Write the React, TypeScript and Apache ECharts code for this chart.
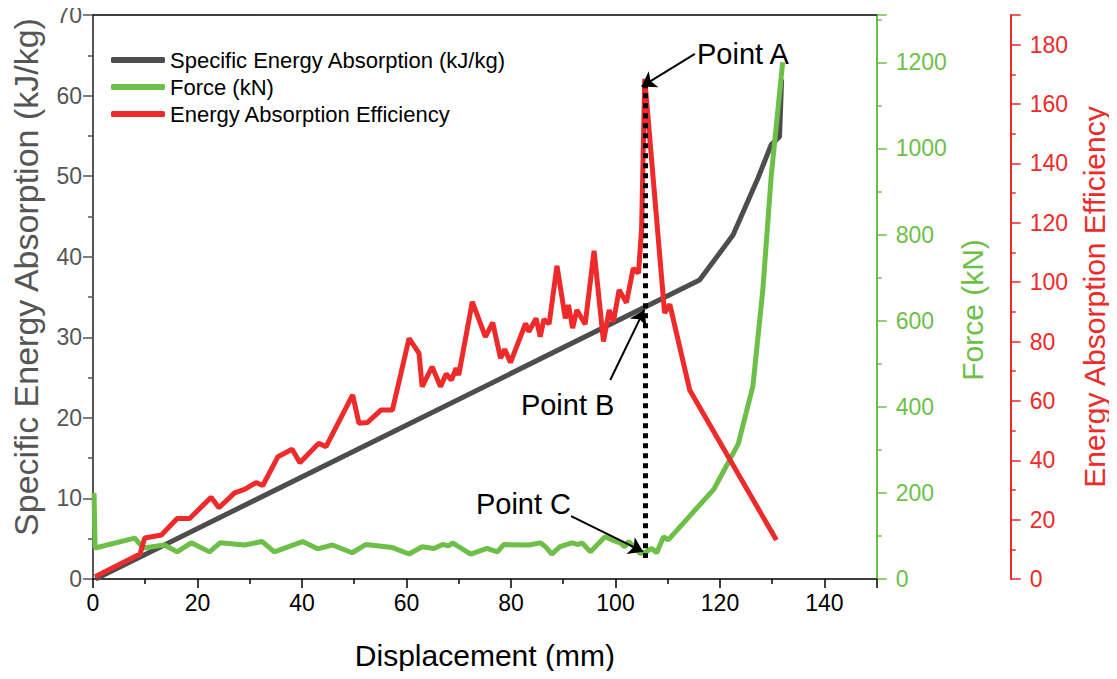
import React, { useEffect, useRef } from "react";
import * as echarts from "echarts";

// Displacement (mm) vs Specific Energy Absorption (kJ/kg)
const seaData: [number, number][] = [
  [0.5, 0], [116.1, 37.1], [122.5, 42.7], [127.3, 49.8], [129.8, 53.9], [131.4, 54.9], [131.8, 62],
];

// Displacement (mm) vs Force (kN)
const forceData: [number, number][] = [
  [0.2, 200], [0.4, 72], [8, 95], [9.6, 72], [13.7, 79], [16.1, 63], [18.8, 84], [22.3, 63],
  [24.3, 84], [29, 79], [32.4, 87], [34.7, 63], [40.1, 87], [43, 70], [45.8, 79], [49.6, 61],
  [52.2, 80], [57.3, 73], [60.5, 58], [63, 75], [65.3, 71], [66.9, 80], [68.1, 77], [68.8, 84],
  [72.3, 58], [75.4, 71], [77.4, 63], [78.6, 80], [83.4, 79], [85.6, 84], [86.6, 75], [87.8, 58],
  [89.4, 75], [91.7, 84], [92.9, 80], [93.6, 84], [95.2, 63], [98, 98], [99.3, 91], [100.9, 84],
  [101.8, 75], [102.5, 87], [104.7, 60], [105.6, 61], [106.9, 71], [107.9, 61], [109.2, 98],
  [110.1, 91], [118.8, 208], [123.5, 314], [126.3, 448], [128.2, 671], [129.8, 935], [132, 1200],
];

// Displacement (mm) vs Energy Absorption Efficiency
const eaeData: [number, number][] = [
  [0.4, 0.8], [9.0, 8.4], [9.9, 13.8], [13.1, 14.8], [16.1, 20.4], [18.5, 20.4], [22.6, 27.5],
  [24.1, 24.0], [27.1, 29.0], [29.0, 30.2], [31.2, 32.5], [32.5, 31.5], [35.4, 41.2], [38.1, 43.7],
  [39.6, 39.2], [43.2, 45.7], [44.6, 44.6], [49.7, 62], [50.9, 52.5], [52.5, 52.7], [55.1, 56.9],
  [57.3, 56.9], [60.5, 81.1], [62.4, 76.0], [63.0, 64.8], [64.9, 71.5], [65.7, 68.2], [66.5, 64.8],
  [67.6, 69.1], [68.6, 67.0], [69.5, 71.0], [70.0, 68.7], [72.6, 93.4], [75.1, 81.6], [76.5, 86.4],
  [78.0, 74.4], [78.8, 77.4], [79.9, 72.9], [82.8, 86.1], [83.4, 83.3], [84.8, 87.8], [85.6, 81.6],
  [86.3, 87.5], [87.3, 85.9], [88.8, 105.5], [90.4, 87.8], [91.0, 92.3], [91.8, 84.5], [92.6, 90.6],
  [94.2, 85.8], [95.9, 110.6], [97.7, 80.0], [98.8, 90.6], [99.6, 86.7], [100.7, 97.4], [102.1, 93.1],
  [103.4, 104.7], [104.4, 103.0], [105.0, 118], [105.6, 168.5], [109.4, 89.6], [110.4, 92.5],
  [114.2, 63.7], [130.8, 13.1],
];

// Annotations: [x, y] in the axis of each series
const pointALabel: [number, number] = [115.5, 176.7]; // EAE axis
const pointAArrow: [number, number][] = [[115.2, 176.9], [105.0, 165.9]];
const pointBLabel: [number, number] = [81.8, 21.6]; // SEA axis
const pointBArrow: [number, number][] = [[99.0, 24.7], [105.5, 33.4]];
const pointCLabel: [number, number] = [73.2, 174]; // Force axis
const pointCArrow: [number, number][] = [[91.5, 146], [105.3, 63.4]];
const dottedLine: [number, number][] = [[105.7, 167], [105.7, 7.1]]; // EAE axis

const seriesNames = ["Specific Energy Absorption (kJ/kg)", "Force (kN)", "Energy Absorption Efficiency"];

const FONT = "Liberation Sans, Arial, sans-serif";
const GRAY = "#555555";
const GREEN = "#6dbf48";
const RED = "#ee2a2a";

export default function App() {
  const ref = useRef<HTMLDivElement>(null);
  useEffect(() => {
    if (!ref.current) return;
    const chart = echarts.init(ref.current, undefined, { renderer: "svg" });
    const arrowLine = (pts: [number, number][]) => ({
      symbol: ["none", "arrow"],
      symbolSize: 14,
      silent: true,
      label: { show: false },
      lineStyle: { color: "#000", width: 2, type: "solid" },
      data: [[{ coord: pts[0] }, { coord: pts[1] }]],
    });
    const labelPoint = (pos: [number, number], text: string) => ({
      silent: true,
      data: [
        {
          coord: pos,
          symbol: "circle",
          symbolSize: 1,
          itemStyle: { color: "rgba(0,0,0,0)" },
          label: {
            show: true,
            position: "right",
            distance: 0,
            formatter: text,
            fontSize: 29,
            color: "#000",
            fontFamily: FONT,
          },
        },
      ],
    });
    const plain = (v: number) => String(v);
    chart.setOption({
      animation: false,
      backgroundColor: "#fff",
      textStyle: { fontFamily: FONT },
      grid: { left: 93, right: 237, top: 15, bottom: 100, containLabel: false },
      legend: {
        data: seriesNames,
        orient: "vertical",
        left: 106,
        top: 44,
        itemWidth: 54,
        itemHeight: 6,
        itemGap: 5,
        icon: "roundRect",
        textStyle: { fontSize: 22, color: "#000", fontFamily: FONT },
      },
      xAxis: [
        {
          type: "value",
          min: 0,
          max: 150,
          interval: 20,
          name: "Displacement (mm)",
          nameLocation: "middle",
          nameGap: 61,
          nameTextStyle: { fontSize: 30, color: "#000", fontFamily: FONT },
          axisLine: { show: true, onZero: false, lineStyle: { color: "#000", width: 1.5 } },
          axisTick: { show: true, length: 9, lineStyle: { color: "#000", width: 1.5 } },
          minorTick: { show: true, splitNumber: 2, length: 5, lineStyle: { color: "#000", width: 1.5 } },
          axisLabel: { fontSize: 23, color: "#000", margin: 12, fontFamily: FONT, showMaxLabel: false, formatter: plain },
          splitLine: { show: false },
        },
        {
          type: "value",
          position: "top",
          min: 0,
          max: 150,
          axisLine: { show: true, onZero: false, lineStyle: { color: "#000", width: 1.5 } },
          axisTick: { show: false },
          axisLabel: { show: false },
          splitLine: { show: false },
        },
      ],
      yAxis: [
        {
          type: "value",
          position: "left",
          min: 0,
          max: 70,
          interval: 10,
          name: "Specific Energy Absorption (kJ/kg)",
          nameLocation: "middle",
          nameRotate: 90,
          nameGap: 50,
          nameTextStyle: { fontSize: 34, color: GRAY, fontFamily: FONT, padding: [0, 0, 0, 40] },
          axisLine: { show: true, onZero: false, lineStyle: { color: GRAY, width: 2 } },
          axisTick: { show: true, length: 10, lineStyle: { color: GRAY, width: 1.5 } },
          minorTick: { show: true, splitNumber: 2, length: 5, lineStyle: { color: GRAY, width: 1.5 } },
          axisLabel: { fontSize: 23, color: GRAY, margin: 11, fontFamily: FONT, formatter: plain },
          splitLine: { show: false },
        },
        {
          type: "value",
          position: "right",
          offset: 0,
          min: 0,
          max: 1310,
          interval: 200,
          name: "Force (kN)",
          nameLocation: "middle",
          nameRotate: 90,
          nameGap: 80,
          nameTextStyle: { fontSize: 30, color: GREEN, fontFamily: FONT, padding: [0, 26, 0, 0] },
          axisLine: { show: true, onZero: false, lineStyle: { color: GREEN, width: 2 } },
          axisTick: { show: true, length: 10, lineStyle: { color: GREEN, width: 1.5 } },
          minorTick: { show: true, splitNumber: 2, length: 5, lineStyle: { color: GREEN, width: 1.5 } },
          axisLabel: { fontSize: 23, color: GREEN, margin: 19, fontFamily: FONT, showMaxLabel: false, formatter: plain },
          splitLine: { show: false },
        },
        {
          type: "value",
          position: "right",
          offset: 134,
          min: 0,
          max: 190,
          interval: 20,
          name: "Energy Absorption Efficiency",
          nameLocation: "middle",
          nameRotate: 90,
          nameGap: 68,
          nameTextStyle: { fontSize: 30, color: RED, fontFamily: FONT },
          axisLine: { show: true, onZero: false, lineStyle: { color: RED, width: 2 } },
          axisTick: { show: true, length: 10, lineStyle: { color: RED, width: 1.5 } },
          minorTick: { show: true, splitNumber: 2, length: 5, lineStyle: { color: RED, width: 1.5 } },
          axisLabel: { fontSize: 23, color: RED, margin: 19, fontFamily: FONT, showMaxLabel: false, formatter: plain },
          splitLine: { show: false },
        },
      ],
      series: [
        {
          name: seriesNames[0],
          type: "line",
          xAxisIndex: 0,
          yAxisIndex: 0,
          data: seaData,
          showSymbol: false,
          symbol: "none",
          lineStyle: { color: "#4d4d4d", width: 5 },
          itemStyle: { color: "#4d4d4d" },
          z: 2,
        },
        {
          name: seriesNames[1],
          type: "line",
          xAxisIndex: 0,
          yAxisIndex: 1,
          data: forceData,
          showSymbol: false,
          symbol: "none",
          lineStyle: { color: GREEN, width: 5 },
          itemStyle: { color: GREEN },
          z: 3,
        },
        {
          name: seriesNames[2],
          type: "line",
          xAxisIndex: 0,
          yAxisIndex: 2,
          data: eaeData,
          showSymbol: false,
          symbol: "none",
          lineStyle: { color: RED, width: 5 },
          itemStyle: { color: RED },
          z: 4,
        },
        {
          name: "dotted",
          type: "line",
          xAxisIndex: 0,
          yAxisIndex: 2,
          data: [],
          z: 5,
          markLine: {
            symbol: ["none", "none"],
            silent: true,
            label: { show: false },
            lineStyle: { color: "#000", width: 5, type: [5, 5] },
            data: [[{ coord: dottedLine[0] }, { coord: dottedLine[1] }]],
          },
          markPoint: labelPoint(pointALabel, "Point A"),
        },
        {
          name: "arrowA",
          type: "line",
          xAxisIndex: 0,
          yAxisIndex: 2,
          data: [],
          z: 6,
          markLine: arrowLine(pointAArrow),
        },
        {
          name: "arrowB",
          type: "line",
          xAxisIndex: 0,
          yAxisIndex: 0,
          data: [],
          z: 6,
          markLine: arrowLine(pointBArrow),
          markPoint: labelPoint(pointBLabel, "Point B"),
        },
        {
          name: "arrowC",
          type: "line",
          xAxisIndex: 0,
          yAxisIndex: 1,
          data: [],
          z: 6,
          markLine: arrowLine(pointCArrow),
          markPoint: labelPoint(pointCLabel, "Point C"),
        },
      ],
    });
    return () => chart.dispose();
  }, []);
  return <div ref={ref} style={{ width: 1117, height: 679, margin: -8 }} />;
}
